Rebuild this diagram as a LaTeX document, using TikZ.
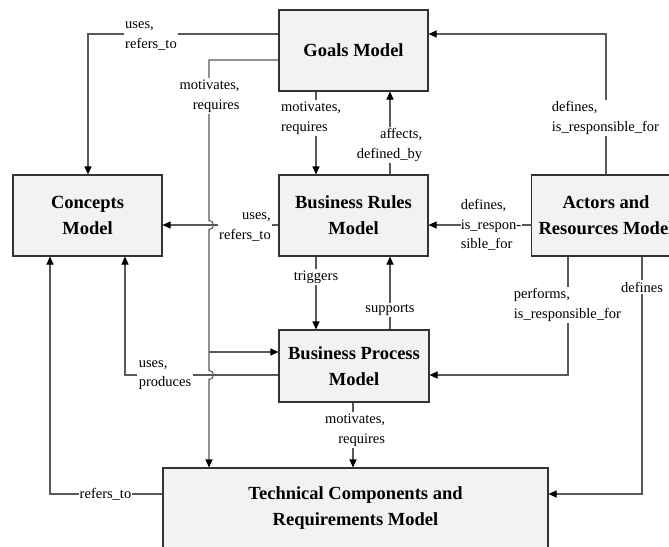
\documentclass[tikz,border=0pt]{standalone}
\usepackage{fontspec}
\setmainfont{Liberation Serif}
\usetikzlibrary{arrows.meta}
\begin{document}
\begin{tikzpicture}[x=1pt,y=-1pt,
  model/.style={draw=black!80, line width=1.1pt, fill=black!5, align=center,
    font=\fontsize{18.5}{26}\selectfont\bfseries, inner sep=0pt},
  link/.style={draw=black!65, line width=1.1pt},
  arr/.style={link, -{Triangle[length=8pt,width=7pt,color=black]}},
  lbl/.style={fill=white, inner sep=1.5pt, font=\fontsize{14.5}{19.5}\selectfont},
]
\clip (0,0) rectangle (669,546);
\fill[white] (0,0) rectangle (669,546);

% models
\node[model, minimum width=149pt, minimum height=81pt] (goals)    at (353.5,50.5)  {Goals Model};
\node[model, minimum width=149pt, minimum height=81pt] (concepts) at (87.5,215.5)  {Concepts\\Model};
\node[model, minimum width=149pt, minimum height=81pt] (rules)    at (353.5,215.5) {Business Rules\\Model};
\node[model, minimum width=149pt, minimum height=81pt] (actors)   at (606,215.5)   {Actors and\\Resources Model};
\node[model, minimum width=150pt, minimum height=72pt] (process)  at (354,366)     {Business Process\\Model};
\node[model, minimum width=385pt, minimum height=80pt] (tech)     at (355.5,508)   {Technical Components and\\Requirements Model};

% routing points
\coordinate (gc) at (88,34);
\coordinate (gt) at (209,60);
\coordinate (jA) at (209,220.5);
\coordinate (jB) at (209,229.5);
\coordinate (jC) at (209,370.5);
\coordinate (jD) at (209,379.5);
\coordinate (gp) at (209,352);
\coordinate (ag) at (606,34);
\coordinate (ap) at (568,375);
\coordinate (at) at (642,494);
\coordinate (pc) at (125,375);
\coordinate (tc) at (50,494);
\coordinate (hy) at (0,225);
\coordinate (rg) at (390,0);
\coordinate (gr) at (316,0);
\coordinate (pt) at (353,0);

% connectors
\draw[arr] (goals.west |- gc) -- (gc) -- (concepts.north -| gc);
\draw[arr] (goals.west |- gt) -- (gt) -- (jA)
   .. controls (215,220.5) and (215,229.5) .. (jB) -- (jC)
   .. controls (215,370.5) and (215,379.5) .. (jD) -- (tech.north -| gt);
\draw[arr] (gp) -- (process.west |- gp);
\draw[arr] (goals.south -| gr) -- (rules.north -| gr);
\draw[arr] (rules.north -| rg) -- (goals.south -| rg);
\draw[arr] (actors.north -| ag) -- (ag) -- (goals.east |- ag);
\draw[arr] (rules.west |- hy) -- (concepts.east |- hy);
\draw[arr] (actors.west |- hy) -- (rules.east |- hy);
\draw[arr] (rules.south -| gr) -- (process.north -| gr);
\draw[arr] (process.north -| rg) -- (rules.south -| rg);
\draw[arr] (actors.south -| ap) -- (ap) -- (process.east |- ap);
\draw[arr] (actors.south -| at) -- (at) -- (tech.east |- at);
\draw[arr] (process.west |- pc) -- (pc) -- (concepts.south -| pc);
\draw[arr] (tech.west |- tc) -- (tc) -- (concepts.south -| tc);
\draw[arr] (process.south -| pt) -- (tech.north -| pt);

% connector labels
\node[lbl, align=left]   (l1)  at (151,36)    {uses,\\refers\_to};
\node[lbl, align=right]  (l2)  at (209.5,96)  {motivates,\\requires};
\node[lbl, align=left]   (l3)  at (311,118)   {motivates,\\requires};
\node[lbl, align=right]  (l4)  at (389.5,145) {affects,\\defined\_by};
\node[lbl, align=left]   (l5)  at (605.5,118) {defines,\\is\_responsible\_for};
\node[lbl, align=right]  (l6)  at (245,227)   {uses,\\refers\_to};
\node[lbl, align=left, inner sep=0.3pt] (l7) at (491,225) {defines,\\is\_respon-\\sible\_for};
\node[lbl]               (l8)  at (316,277)   {triggers};
\node[lbl]               (l9)  at (390,310)   {supports};
\node[lbl, align=left]   (l10) at (567.5,305) {performs,\\is\_responsible\_for};
\node[lbl]               (l11) at (642,287)   {defines};
\node[lbl, align=left]   (l12) at (165,375)   {uses,\\produces};
\node[lbl, inner sep=0.5pt] (l13) at (105.5,494) {refers\_to};
\node[lbl, align=right]  (l14) at (355,430)   {motivates,\\requires};
\end{tikzpicture}
\end{document}
